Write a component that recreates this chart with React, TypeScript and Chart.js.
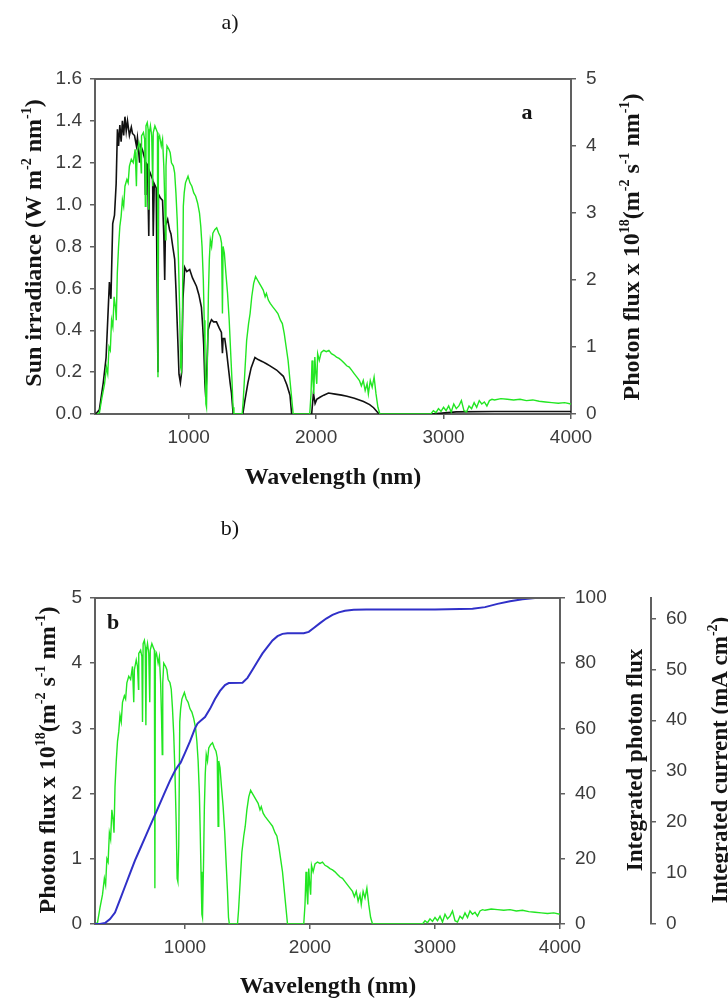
import React, { useEffect, useRef } from 'react';
import { Chart, registerables } from 'chart.js';
Chart.register(...registerables);

// ---------- data ----------
const fluxWl = [280,300,320,340,355,365,375,385,395,405,415,425,432,440,450,460,470,480,490,500,515,525,535,550,565,580,590,595,610,620,628,630,645,655,660,665,675,682,687,692,700,710,718,722,735,745,755,759,763,772,785,795,805,812,818,822,830,845,855,865,880,890,900,910,920,930,937,943,950,958,965,975,985,995,1010,1025,1040,1055,1070,1085,1095,1105,1115,1122,1128,1135,1140,1148,1155,1162,1170,1180,1190,1205,1220,1235,1248,1258,1265,1270,1280,1292,1305,1318,1330,1340,1348,1355,1420,1428,1440,1455,1470,1482,1495,1510,1525,1540,1555,1570,1585,1600,1610,1625,1640,1660,1680,1700,1720,1735,1750,1765,1780,1795,1810,1820,1950,1960,1968,1975,1982,1990,1998,2005,2012,2025,2040,2060,2080,2100,2120,2140,2160,2180,2200,2220,2240,2260,2280,2300,2320,2340,2355,2370,2385,2400,2410,2425,2440,2455,2470,2485,2500,2900,2920,2940,2960,2980,3000,3020,3040,3060,3080,3100,3120,3140,3160,3180,3200,3220,3240,3260,3280,3300,3320,3340,3360,3380,3400,3450,3500,3550,3600,3650,3700,3750,3800,3850,3900,3950,4000];
const fluxVal = [0,0.02,0.25,0.45,0.7,0.6,1.0,0.95,1.4,1.3,1.75,1.6,1.4,2.1,2.5,2.8,2.95,3.2,3.1,3.4,3.5,3.45,3.7,3.8,3.75,3.95,3.4,3.9,4.05,3.95,3.6,4.15,4.2,4.1,3.1,4.3,4.35,4.25,3.05,4.2,4.3,4.15,3.4,4.2,4.3,4.25,4.2,0.55,4.1,4.15,4.0,4.1,3.7,3.2,2.6,3.7,4.0,3.95,3.9,3.75,3.7,3.6,3.3,2.9,2.3,1.5,0.7,0.65,1.2,3.1,3.3,3.45,3.5,3.55,3.45,3.4,3.3,3.25,3.15,3.0,2.8,2.5,2.0,1.4,0.8,0.15,0.1,0.9,1.8,2.3,2.6,2.5,2.7,2.75,2.78,2.7,2.65,2.55,1.5,2.5,2.4,2.1,1.8,1.4,0.9,0.5,0.1,0,0,0.2,0.6,1.1,1.35,1.5,1.75,1.95,2.05,2.0,1.95,1.9,1.85,1.75,1.8,1.7,1.65,1.6,1.55,1.5,1.4,1.35,1.2,1.0,0.8,0.5,0.2,0,0,0.3,0.8,0.5,0.3,0.85,0.6,0.45,0.9,0.8,0.92,0.95,0.93,0.95,0.9,0.88,0.85,0.83,0.8,0.76,0.72,0.7,0.65,0.6,0.55,0.5,0.42,0.5,0.35,0.45,0.3,0.5,0.4,0.55,0.3,0.1,0,0,0.05,0.02,0.08,0.04,0.1,0.05,0.12,0.03,0.15,0.08,0.12,0.2,0.05,0.03,0.12,0.08,0.17,0.1,0.2,0.15,0.18,0.12,0.2,0.22,0.21,0.23,0.22,0.21,0.22,0.2,0.21,0.19,0.18,0.17,0.16,0.17,0.15];

const irrWl = [270,299,330,352,365,378,390,404,418,431,441,450,460,470,480,490,500,510,520,535,550,559,575,590,598,615,625,638,655,660,665,677,687,692,705,717,722,730,745,759,763,780,795,805,812,818,835,850,861,875,890,900,912,924,935,945,955,969,985,1008,1030,1061,1080,1100,1110,1118,1127,1134,1142,1152,1165,1179,1195,1218,1240,1257,1265,1270,1283,1297,1310,1325,1336,1349,1425,1440,1465,1490,1520,1545,1580,1610,1638,1690,1743,1770,1795,1808,1965,1979,1992,2005,2030,2060,2097,2150,2200,2242,2300,2372,2420,2451,2480,2495,2900,3100,3400,4000];
const irrVal = [0,0.02,0.15,0.27,0.45,0.63,0.55,0.91,0.95,1.1,1.36,1.28,1.38,1.3,1.4,1.33,1.42,1.35,1.4,1.33,1.37,1.34,1.33,1.28,1.32,1.2,1.28,1.26,1.22,1.05,1.2,1.19,0.85,1.16,1.14,1.12,0.85,1.1,1.08,0.2,1.05,1.03,1.02,0.85,0.64,0.9,0.93,0.88,0.86,0.8,0.74,0.6,0.4,0.19,0.15,0.2,0.55,0.7,0.68,0.69,0.65,0.61,0.57,0.51,0.42,0.33,0.15,0.08,0.2,0.4,0.43,0.45,0.44,0.44,0.41,0.39,0.29,0.36,0.36,0.3,0.23,0.15,0.1,0,0,0.06,0.15,0.22,0.27,0.26,0.25,0.24,0.23,0.21,0.18,0.14,0.09,0,0,0.1,0.05,0.07,0.08,0.09,0.1,0.095,0.09,0.085,0.075,0.06,0.045,0.03,0.01,0,0,0.01,0.012,0.012];

const intWl = [280,320,360,400,440,480,520,560,600,640,680,720,760,800,840,880,920,945,965,1000,1040,1080,1100,1130,1160,1200,1240,1280,1320,1350,1460,1500,1540,1580,1620,1660,1700,1740,1780,1820,1950,1990,2030,2080,2130,2180,2230,2280,2350,2450,2600,3000,3300,3400,3500,3600,3700,3800,4000];
const intVal = [0,0,0.3,1.5,3.5,7.5,11.5,15.5,19.5,23,26.5,30,33.5,37,40.5,44,47,48.5,49.5,52.5,56,60,61.5,62.5,63.5,66,69,71.5,73.3,73.9,74,75.5,78,80.5,83,85,87,88.3,89,89.2,89.2,89.6,90.8,92.3,93.7,94.8,95.6,96.1,96.4,96.5,96.5,96.5,96.7,97.2,98.2,99.0,99.6,100,100];

const xTicks = [1000, 2000, 3000, 4000];
const irrTicks = [0, 0.2, 0.4, 0.6, 0.8, 1.0, 1.2, 1.4, 1.6];
const fluxTicks = [0, 1, 2, 3, 4, 5];
const intTicks = [0, 20, 40, 60, 80, 100];
const curTicks = [0, 10, 20, 30, 40, 50, 60];

// ---------- styles ----------
const AXIS = '#606060';
const TICK_COLOR = '#3c3c3c';
const TICK_FONT = { family: '"Liberation Sans", Arial, sans-serif', size: 19 };
const SERIF = '"Liberation Serif", "Times New Roman", serif';
const GREEN = '#22e622';
const BLUE = '#3030c8';

type Seg = { t: string; s?: boolean };

function drawRich(ctx: CanvasRenderingContext2D, segs: Seg[], x: number, y: number, rot: number, size: number, weight = 'bold') {
  ctx.save();
  ctx.translate(x, y);
  ctx.rotate(rot);
  const main = `${weight} ${size}px ${SERIF}`;
  const sup = `${weight} ${Math.round(size * 0.6)}px ${SERIF}`;
  let w = 0;
  for (const g of segs) { ctx.font = g.s ? sup : main; w += ctx.measureText(g.t).width; }
  let cx = -w / 2;
  ctx.textAlign = 'left';
  ctx.textBaseline = 'alphabetic';
  ctx.fillStyle = '#141414';
  for (const g of segs) {
    ctx.font = g.s ? sup : main;
    ctx.fillText(g.t, cx, g.s ? size * 0.33 - size * 0.42 : size * 0.33);
    cx += ctx.measureText(g.t).width;
  }
  ctx.restore();
}

const sunTitle: Seg[] = [{ t: 'Sun irradiance (W m' }, { t: '-2', s: true }, { t: ' nm' }, { t: '-1', s: true }, { t: ')' }];
const photonTitle: Seg[] = [{ t: 'Photon flux x 10' }, { t: '18', s: true }, { t: '(m' }, { t: '-2', s: true }, { t: ' s' }, { t: '-1', s: true }, { t: ' nm' }, { t: '-1', s: true }, { t: ')' }];
const wlTitle: Seg[] = [{ t: 'Wavelength (nm)' }];
const intTitle: Seg[] = [{ t: 'Integrated photon flux' }];
const curTitle: Seg[] = [{ t: 'Integrated current (mA cm' }, { t: '-2', s: true }, { t: ')' }];

function zip(xs: number[], ys: number[]) {
  return xs.map((x, i) => ({ x, y: ys[i] }));
}

function axis(pos: string, ticks: number[], min: number, max: number, fit: (s: any) => void, extra: any = {}) {
  return {
    type: 'linear',
    position: pos,
    min,
    max,
    border: { display: true, color: AXIS, width: 2 },
    grid: { display: true, drawOnChartArea: false, drawTicks: true, tickLength: 5, color: AXIS, lineWidth: 1.5 },
    ticks: { font: TICK_FONT, color: TICK_COLOR, padding: 8, autoSkip: false, maxRotation: 0, callback: (v: any) => String(v), ...(extra.ticks || {}) },
    afterBuildTicks: (s: any) => { s.ticks = ticks.map((v) => ({ value: v })); },
    afterFit: fit,
    ...(extra.rest || {}),
  };
}

function framePlugin(labels: (ctx: CanvasRenderingContext2D) => void) {
  return {
    id: 'frame',
    afterDraw(chart: any) {
      const { ctx, chartArea } = chart;
      ctx.save();
      ctx.strokeStyle = AXIS;
      ctx.lineWidth = 2;
      ctx.beginPath();
      ctx.moveTo(chartArea.left - 1, chartArea.top);
      ctx.lineTo(chartArea.right + 1, chartArea.top);
      ctx.stroke();
      ctx.restore();
      labels(ctx);
    },
  };
}

function TopChart() {
  const ref = useRef<HTMLCanvasElement>(null);
  useEffect(() => {
    const chart = new Chart(ref.current as HTMLCanvasElement, {
      type: 'line',
      data: {
        datasets: [
          { data: zip(fluxWl, fluxVal), yAxisID: 'y1', borderColor: GREEN, borderWidth: 1.4, pointRadius: 0, tension: 0 },
          { data: zip(irrWl, irrVal), yAxisID: 'y', borderColor: '#111111', borderWidth: 1.6, pointRadius: 0, tension: 0 },
        ],
      },
      options: {
        responsive: false,
        animation: false,
        layout: { padding: { top: 79, left: 0, right: 0, bottom: 0 } },
        plugins: { legend: { display: false }, tooltip: { enabled: false } },
        scales: {
          x: axis('bottom', xTicks, 265, 4000, (s: any) => { s.height = 86; }, { ticks: { padding: 7 } }),
          y: axis('left', irrTicks, 0, 1.6, (s: any) => { s.width = 95; }, { ticks: { callback: (v: any) => Number(v).toFixed(1) } }),
          y1: axis('right', fluxTicks, 0, 5, (s: any) => { s.width = 157; }, { ticks: { padding: 10 } }),
        },
      } as any,
      plugins: [framePlugin((ctx) => {
        drawRich(ctx, sunTitle, 33, 243, -Math.PI / 2, 24);
        drawRich(ctx, photonTitle, 631, 247, -Math.PI / 2, 24);
        drawRich(ctx, wlTitle, 333, 476, 0, 24);
        drawRich(ctx, [{ t: 'a' }], 527, 112, 0, 22);
        drawRich(ctx, [{ t: 'a)' }], 230, 22, 0, 22, 'normal');
      })],
    } as any);
    return () => chart.destroy();
  }, []);
  return <canvas ref={ref} width={728} height={500} style={{ display: 'block', position: 'absolute', left: 0, top: 0 }} />;
}

function BottomChart() {
  const ref = useRef<HTMLCanvasElement>(null);
  useEffect(() => {
    const chart = new Chart(ref.current as HTMLCanvasElement, {
      type: 'line',
      data: {
        datasets: [
          { data: zip(intWl, intVal), yAxisID: 'y1', borderColor: BLUE, borderWidth: 2, pointRadius: 0, tension: 0 },
          { data: zip(fluxWl, fluxVal), yAxisID: 'y', borderColor: GREEN, borderWidth: 1.4, pointRadius: 0, tension: 0 },
        ],
      },
      options: {
        responsive: false,
        animation: false,
        layout: { padding: { top: 98, left: 0, right: 0, bottom: 0 } },
        plugins: { legend: { display: false }, tooltip: { enabled: false } },
        scales: {
          x: axis('bottom', xTicks, 280, 4000, (s: any) => { s.height = 74; }, { ticks: { padding: 7 } }),
          y: axis('left', fluxTicks, 0, 5, (s: any) => { s.width = 95; }),
          y1: axis('right', intTicks, 0, 100, (s: any) => { s.width = 91; }, { ticks: { padding: 10 }, rest: { weight: 0 } }),
          y2: axis('right', curTicks, 0, 64, (s: any) => { s.width = 77; }, { ticks: { padding: 10 }, rest: { weight: 1 } }),
        },
      } as any,
      plugins: [framePlugin((ctx) => {
        drawRich(ctx, photonTitle, 47, 260, -Math.PI / 2, 24);
        drawRich(ctx, intTitle, 634, 260, -Math.PI / 2, 23);
        drawRich(ctx, curTitle, 719, 260, -Math.PI / 2, 23);
        drawRich(ctx, wlTitle, 328, 485, 0, 24);
        drawRich(ctx, [{ t: 'b' }], 113, 122, 0, 22);
        drawRich(ctx, [{ t: 'b)' }], 230, 28, 0, 22, 'normal');
      })],
    } as any);
    return () => chart.destroy();
  }, []);
  return <canvas ref={ref} width={728} height={498} style={{ display: 'block', position: 'absolute', left: 0, top: 500 }} />;
}

export default function App() {
  return (
    <div style={{ position: 'absolute', left: 0, top: 0, width: 728, height: 998, background: '#fff' }}>
      <TopChart />
      <BottomChart />
    </div>
  );
}
